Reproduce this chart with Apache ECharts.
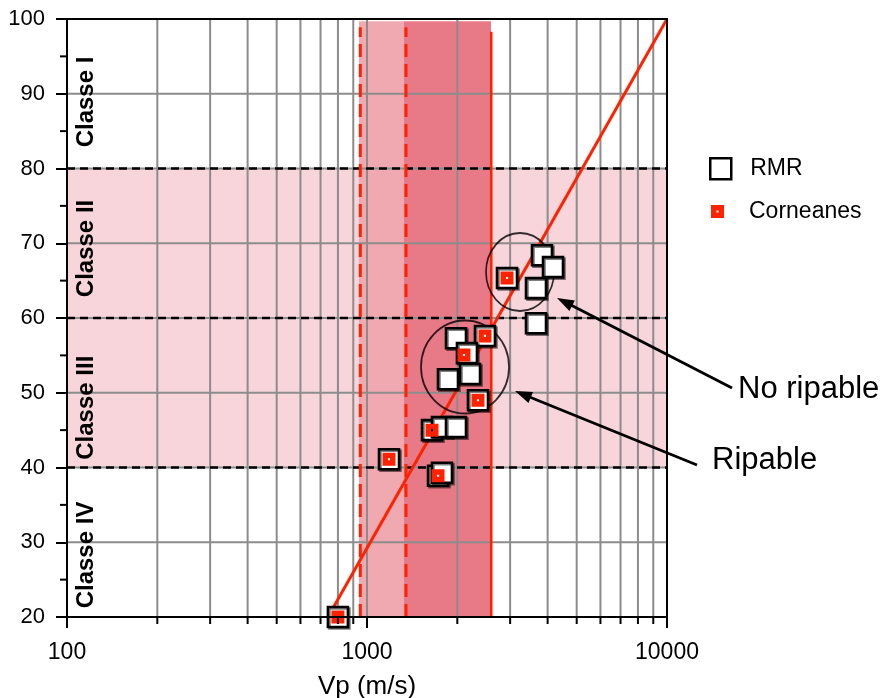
<!DOCTYPE html>
<html><head><meta charset="utf-8">
<script src="https://cdn.jsdelivr.net/npm/echarts@6/dist/echarts.min.js"></script>
<style>html,body{margin:0;padding:0;background:#fff}#c{width:884px;height:698px}</style>
</head><body><div id="c"></div>
<script>
// ---- data ----
const rmrX = [3831, 4169, 3659, 3659, 2929, 1980, 2473, 2154, 1862, 2205, 2344, 1647, 1778, 1980, 1184, 1725, 1778, 800];
const rmrY = [68.4, 66.8, 64.0, 59.3, 65.35, 57.3, 57.6, 55.3, 51.8, 52.5, 49.0, 45.0, 45.4, 45.4, 41.1, 38.9, 39.3, 20];
const corX = [2929, 2473, 2105, 2344, 1647, 1184, 1725, 800];
const corY = [65.35, 57.6, 55.05, 49.0, 45.0, 41.1, 38.9, 20];
const regX = [741, 10000];
const regY = [20, 100];
const xMinorGrid = [200, 300, 400, 500, 600, 700, 800, 900, 1000, 2000, 3000, 4000, 5000, 6000, 7000, 8000, 9000];
const yGrid = [30, 40, 50, 60, 70, 80, 90];
const yMinorTicks = [25, 35, 45, 55, 65, 75, 85, 95];
const yDashed = [40, 60, 80];
const pinkBand = [100, 10000, 40, 80];
const lightBand = [940, 1328, 20, 99.7];
const darkBand = [1328, 2590, 20, 99.7];
const redDashedX = [950, 1349];
const redDashedTop = 98.9;
const redSolidX = [2595];
const redSolidTop = 98.3;
const zoneX = [3236, 2122];
const zoneY = [66.15, 53.45];
const zoneW = [68, 88];
const zoneH = [78, 93];
const classLabels = ['Classe I', 'Classe II', 'Classe III', 'Classe IV'];
const classY = [88.9, 69.3, 48.0, 28.3];
const classX = 116;
const notes = ['No ripable', 'Ripable'];
const noteAt = [[17250, 50.4], [14125, 40.9]];
const arrowFrom = [[16473, 50.64], [12589, 40.33]];
const arrowTo = [[4299, 62.68], [3114, 50.23]];

const FONT = "'Liberation Sans', Arial, Helvetica, sans-serif";
const RED = '#ff2200';
const GRID = '#8c8c8c';
const corSymbol = 'path://M0,0H12V12H0Z M5,5V7H7V5Z';

const chart = echarts.init(document.getElementById('c'), null, {renderer: 'canvas'});

function vline(api, x, y0, y1, style) {
  const a = api.coord([x, y0]), b = api.coord([x, y1]);
  return {type: 'line', shape: {x1: a[0], y1: a[1], x2: b[0], y2: b[1]}, style: style};
}

const bandCols = ['#f7d5da', '#f0a9b1', '#e87a88'];
const bands = [pinkBand, lightBand, darkBand];

const option = {
  animation: false,
  grid: {left: 67, right: 217, top: 19, bottom: 81, show: true, borderColor: '#000', borderWidth: 2,
    backgroundColor: 'transparent', z: 20, containLabel: false, outerBoundsMode: 'none'},
  legend: [
    {data: [{name: 'RMR', icon: 'rect', itemStyle: {color: '#fff', borderColor: '#000', borderWidth: 2.5}}],
     left: 709, top: 157, padding: 0, itemWidth: 21, itemHeight: 21, selectedMode: false,
     textStyle: {fontSize: 23, fontFamily: FONT, color: '#000', padding: [0, 0, 0, 14]}},
    {data: [{name: 'Corneanes', icon: corSymbol, itemStyle: {color: RED}}],
     left: 711, top: 200, padding: 0, itemWidth: 13, itemHeight: 13, selectedMode: false,
     textStyle: {fontSize: 23, fontFamily: FONT, color: '#000', padding: [0, 0, 0, 20]}}
  ],
  xAxis: {
    type: 'log', logBase: 10, min: 100, max: 10000, z: 20,
    axisLine: {lineStyle: {color: '#000', width: 2}},
    axisTick: {length: 11, lineStyle: {color: '#000', width: 2}},
    axisLabel: {fontSize: 23, fontFamily: FONT, color: '#000', margin: 24, formatter: v => String(Math.round(v))},
    splitLine: {show: false},
    name: 'Vp (m/s)', nameLocation: 'middle', nameGap: 57,
    nameTextStyle: {fontSize: 26, fontFamily: FONT, color: '#000'}
  },
  yAxis: {
    type: 'value', min: 20, max: 100, interval: 10, z: 20,
    axisLine: {lineStyle: {color: '#000', width: 2}},
    axisTick: {length: 11, lineStyle: {color: '#000', width: 2}},
    axisLabel: {fontSize: 22, fontFamily: FONT, color: '#000', margin: 22},
    splitLine: {show: false}
  },
  series: [
    {
      type: 'custom', name: 'bands', z: 1, silent: true, clip: true,
      data: bands.map(b => [b[0], b[2]]),
      renderItem: function (params, api) {
        const d = bands[params.dataIndex];
        const a = api.coord([d[0], d[3]]);
        const b = api.coord([d[1], d[2]]);
        return {type: 'rect', shape: {x: a[0], y: a[1], width: b[0] - a[0], height: b[1] - a[1]}, style: {fill: bandCols[params.dataIndex]}};
      }
    },
    {
      type: 'custom', name: 'vgrid', z: 2, silent: true, clip: false,
      data: xMinorGrid.map(v => [v, 20]),
      renderItem: function (params, api) {
        return vline(api, api.value(0), 20, 100, {stroke: GRID, lineWidth: 2});
      }
    },
    {
      type: 'custom', name: 'xminorticks', z: 25, silent: true, clip: false,
      data: xMinorGrid.filter(v => v !== 1000).map(v => [v, 20]),
      renderItem: function (params, api) {
        const a = api.coord([api.value(0), 20]);
        return {type: 'line', shape: {x1: a[0], y1: a[1], x2: a[0], y2: a[1] + 7}, style: {stroke: '#000', lineWidth: 2}};
      }
    },
    {
      type: 'custom', name: 'yminorticks', z: 25, silent: true, clip: false,
      data: yMinorTicks.map(v => [100, v]),
      renderItem: function (params, api) {
        const a = api.coord([100, api.value(1)]);
        return {type: 'line', shape: {x1: a[0] - 7, y1: a[1], x2: a[0], y2: a[1]}, style: {stroke: '#000', lineWidth: 2}};
      }
    },
    {
      type: 'custom', name: 'hgrid', z: 2, silent: true, clip: false,
      data: yGrid.map(v => [100, v]),
      renderItem: function (params, api) {
        const v = api.value(1);
        const a = api.coord([100, v]), b = api.coord([10000, v]);
        return {type: 'line', shape: {x1: a[0], y1: a[1], x2: b[0], y2: b[1]}, style: {stroke: GRID, lineWidth: 2}};
      }
    },
    {
      type: 'custom', name: 'hdash', z: 3, silent: true, clip: false,
      data: yDashed.map(v => [100, v]),
      renderItem: function (params, api) {
        const v = api.value(1);
        const a = api.coord([100, v]), b = api.coord([10000, v]);
        return {type: 'line', shape: {x1: a[0], y1: a[1], x2: b[0], y2: b[1]}, style: {stroke: '#000', lineWidth: 2.4, lineDash: [8, 5]}};
      }
    },
    {
      type: 'custom', name: 'reddash', z: 3, silent: true, clip: false,
      data: redDashedX.map(v => [v, 20]),
      renderItem: function (params, api) {
        return vline(api, api.value(0), 20, redDashedTop, {stroke: RED, lineWidth: 3, lineDash: [13, 7]});
      }
    },
    {
      type: 'custom', name: 'redsolid', z: 3, silent: true, clip: false,
      data: redSolidX.map(v => [v, 20]),
      renderItem: function (params, api) {
        return vline(api, api.value(0), 20, redSolidTop, {stroke: RED, lineWidth: 2.6});
      }
    },
    {
      type: 'custom', name: 'classes', z: 3, silent: true, clip: false,
      data: classY.map(v => [classX, v]),
      renderItem: function (params, api) {
        const p = api.coord([api.value(0), api.value(1)]);
        return {type: 'text', x: p[0], y: p[1], rotation: Math.PI / 2,
          style: {text: classLabels[params.dataIndex], fill: '#000', align: 'center', verticalAlign: 'middle',
            font: "bold 24px " + FONT}};
      }
    },
    {
      type: 'line', name: 'reg', z: 4, silent: true, showSymbol: false,
      data: regX.map((x, i) => [x, regY[i]]),
      lineStyle: {color: RED, width: 3}
    },
    {
      type: 'scatter', name: 'zones', z: 4, silent: true,
      data: zoneX.map((x, i) => [x, zoneY[i], zoneW[i], zoneH[i]]),
      symbol: 'circle',
      symbolSize: v => [v[2], v[3]],
      itemStyle: {color: 'rgba(0,0,0,0)', borderColor: '#000', borderWidth: 1.8}
    },
    {
      type: 'scatter', name: 'RMR', z: 5, clip: false,
      data: rmrX.map((x, i) => [x, rmrY[i]]),
      symbol: 'rect', symbolSize: 20,
      itemStyle: {color: '#fff', borderColor: '#000', borderWidth: 2.6, opacity: 1,
        shadowColor: 'rgba(0,0,0,0.5)', shadowOffsetX: 1.5, shadowOffsetY: 1.5, shadowBlur: 0}
    },
    {
      type: 'scatter', name: 'Corneanes', z: 6, clip: false,
      data: corX.map((x, i) => [x, corY[i]]),
      symbol: corSymbol, symbolSize: 13,
      itemStyle: {color: RED, opacity: 1}
    }
  ]
};
chart.setOption(option);

function drawNotes() {
  const els = [];
  for (let i = 0; i < notes.length; i++) {
    const t = chart.convertToPixel({gridIndex: 0}, noteAt[i]);
    els.push({type: 'text', x: t[0], y: t[1], z: 30,
      style: {text: notes[i], fill: '#000', font: "31px " + FONT, align: 'left', verticalAlign: 'middle'}});
    const a = chart.convertToPixel({gridIndex: 0}, arrowFrom[i]);
    const b = chart.convertToPixel({gridIndex: 0}, arrowTo[i]);
    const dx = b[0] - a[0], dy = b[1] - a[1];
    const L = Math.sqrt(dx * dx + dy * dy);
    const ux = dx / L, uy = dy / L;
    const hl = 17, hw = 6;
    const bx = b[0] - ux * hl, by = b[1] - uy * hl;
    els.push({type: 'line', z: 30, shape: {x1: a[0], y1: a[1], x2: bx + ux * 2, y2: by + uy * 2}, style: {stroke: '#000', lineWidth: 2.8}});
    els.push({type: 'polygon', z: 30, shape: {points: [[b[0], b[1]], [bx - uy * hw, by + ux * hw], [bx + uy * hw, by - ux * hw]]}, style: {fill: '#000'}});
  }
  chart.setOption({graphic: els});
}
drawNotes();
</script>
</body></html>
